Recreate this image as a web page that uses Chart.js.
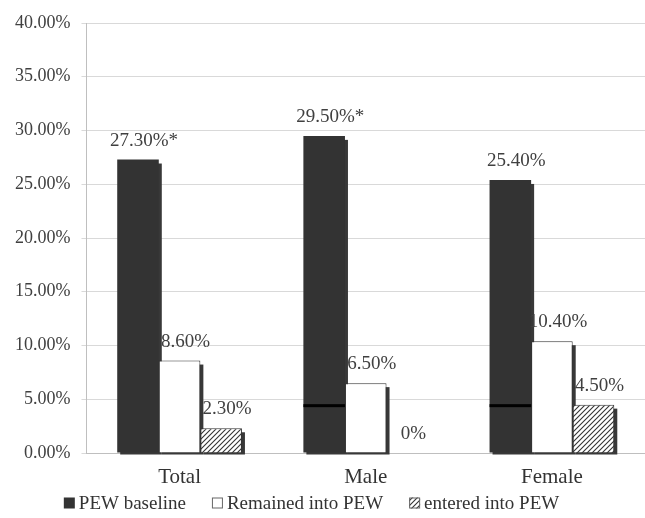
<!DOCTYPE html>
<html>

<head>
    <title>PEW Chart</title>
    <meta charset="utf-8">
    <script src="https://cdn.jsdelivr.net/npm/chart.js"></script>
    <style>
        body { margin: 0; background: #fff; }
        #wrap { width: 645px; height: 518px; }
    </style>
</head>

<body>
    <div id="wrap"><canvas id="pewChart"></canvas></div>
    <script>
        // data
        var categories = ['Total', 'Male', 'Female'];
        var seriesNames = ['PEW baseline', 'Remained into PEW', 'entered into PEW'];
        var baseline = [27.3, 29.5, 25.4];
        var remained = [8.6, 6.5, 10.4];
        var entered = [2.3, 0, 4.5];
        var baselineMarks = ['*', '*', ''];
        var baselineRule = [null, 4.45, 4.45]; // dark line seen inside the Male/Female bars
        var yMin = 0, yMax = 40, yStep = 5;

        var canvas = document.getElementById('pewChart');
        var ctx = canvas.getContext('2d');

        // diagonal hatch for the third series
        function hatch() {
            var c = document.createElement('canvas');
            c.width = 5; c.height = 5;
            var g = c.getContext('2d');
            g.fillStyle = '#fff';
            g.fillRect(0, 0, 5, 5);
            g.strokeStyle = '#333';
            g.lineWidth = 1.1;
            g.beginPath();
            g.moveTo(0, 5); g.lineTo(5, 0);
            g.moveTo(-1, 1); g.lineTo(1, -1);
            g.moveTo(4, 6); g.lineTo(6, 4);
            g.stroke();
            return ctx.createPattern(c, 'repeat');
        }

        // flat drop shadow behind every bar
        var barShadow = {
            id: 'barShadow',
            beforeDatasetsDraw: function (chart) {
                var c = chart.ctx;
                c.save();
                c.fillStyle = '#383838';
                chart.data.datasets.forEach(function (ds, i) {
                    chart.getDatasetMeta(i).data.forEach(function (bar) {
                        var h = bar.base - bar.y;
                        if (h <= 0) return;
                        c.fillRect(bar.x - bar.width / 2 + 3, bar.y + 4, bar.width, h - 2);
                    });
                });
                c.restore();
            }
        };

        // value labels above the bars + the rule inside the baseline bars
        var barLabels = {
            id: 'barLabels',
            afterDatasetsDraw: function (chart) {
                var c = chart.ctx;
                var yScale = chart.scales.y;
                c.save();
                chart.getDatasetMeta(0).data.forEach(function (bar, j) {
                    if (baselineRule[j] == null) return;
                    var y = yScale.getPixelForValue(baselineRule[j]);
                    c.fillStyle = '#000';
                    c.fillRect(bar.x - bar.width / 2, y - 1, bar.width, 3);
                });
                c.font = '19px "Liberation Serif"';
                c.fillStyle = '#404040';
                c.textAlign = 'center';
                c.textBaseline = 'middle';
                chart.data.datasets.forEach(function (ds, i) {
                    chart.getDatasetMeta(i).data.forEach(function (bar, j) {
                        var v = ds.data[j];
                        var txt = v === 0 ? '0%' : v.toFixed(2) + '%';
                        if (i === 0) txt += baselineMarks[j];
                        c.fillText(txt, bar.x + 6, bar.y - 19);
                    });
                });
                c.restore();
            }
        };

        // legend row under the category labels
        var bottomLegend = {
            id: 'bottomLegend',
            afterDraw: function (chart) {
                var c = chart.ctx;
                var box = 11, gap = 4, spacing = 26, y = 503;
                c.save();
                c.font = '19px "Liberation Serif"';
                c.textBaseline = 'middle';
                var items = chart.data.datasets.map(function (ds) {
                    return { ds: ds, w: c.measureText(ds.label).width };
                });
                var total = items.reduce(function (s, it) { return s + box + gap + it.w; }, 0) + spacing * (items.length - 1);
                var x = chart.width / 2 - 11 - total / 2;
                items.forEach(function (it) {
                    c.fillStyle = it.ds.backgroundColor;
                    c.fillRect(x, y - box / 2, box, box);
                    if (it.ds.borderWidth) {
                        c.strokeStyle = '#666';
                        c.lineWidth = 1;
                        c.strokeRect(x + 0.5, y - box / 2 + 0.5, box - 1, box - 1);
                    }
                    c.fillStyle = '#333';
                    c.fillText(it.ds.label, x + box + gap, y + 1);
                    x += box + gap + it.w + spacing;
                });
                c.restore();
            }
        };

        new Chart(canvas, {
            type: 'bar',
            data: {
                labels: categories,
                datasets: [{
                    label: seriesNames[0],
                    data: baseline,
                    backgroundColor: '#333333',
                    borderColor: '#333333',
                    borderWidth: 0
                }, {
                    label: seriesNames[1],
                    data: remained,
                    backgroundColor: '#ffffff',
                    borderColor: '#333333',
                    borderWidth: 1
                }, {
                    label: seriesNames[2],
                    data: entered,
                    backgroundColor: hatch(),
                    borderColor: '#333333',
                    borderWidth: 1
                }]
            },
            options: {
                responsive: true,
                maintainAspectRatio: false,
                animation: false,
                layout: {
                    padding: { top: 23, left: 4, right: -8, bottom: 16 }
                },
                datasets: {
                    bar: { barPercentage: 1, categoryPercentage: 0.67 }
                },
                plugins: {
                    tooltip: { enabled: false },
                    legend: { display: false }
                },
                scales: {
                    x: {
                        grid: { display: false, drawTicks: false },
                        border: { display: true, color: '#bfbfbf' },
                        ticks: {
                            color: '#333',
                            padding: 14,
                            font: { family: 'Liberation Serif', size: 21, lineHeight: 1 }
                        }
                    },
                    y: {
                        min: yMin,
                        max: yMax,
                        grid: { color: '#d9d9d9', tickLength: 5 },
                        border: { color: '#bfbfbf' },
                        ticks: {
                            stepSize: yStep,
                            padding: 11,
                            color: '#404040',
                            font: { family: 'Liberation Serif', size: 18 },
                            callback: function (v) { return v.toFixed(2) + '%'; }
                        }
                    }
                }
            },
            plugins: [barShadow, barLabels, bottomLegend]
        });
    </script>
</body>

</html>
